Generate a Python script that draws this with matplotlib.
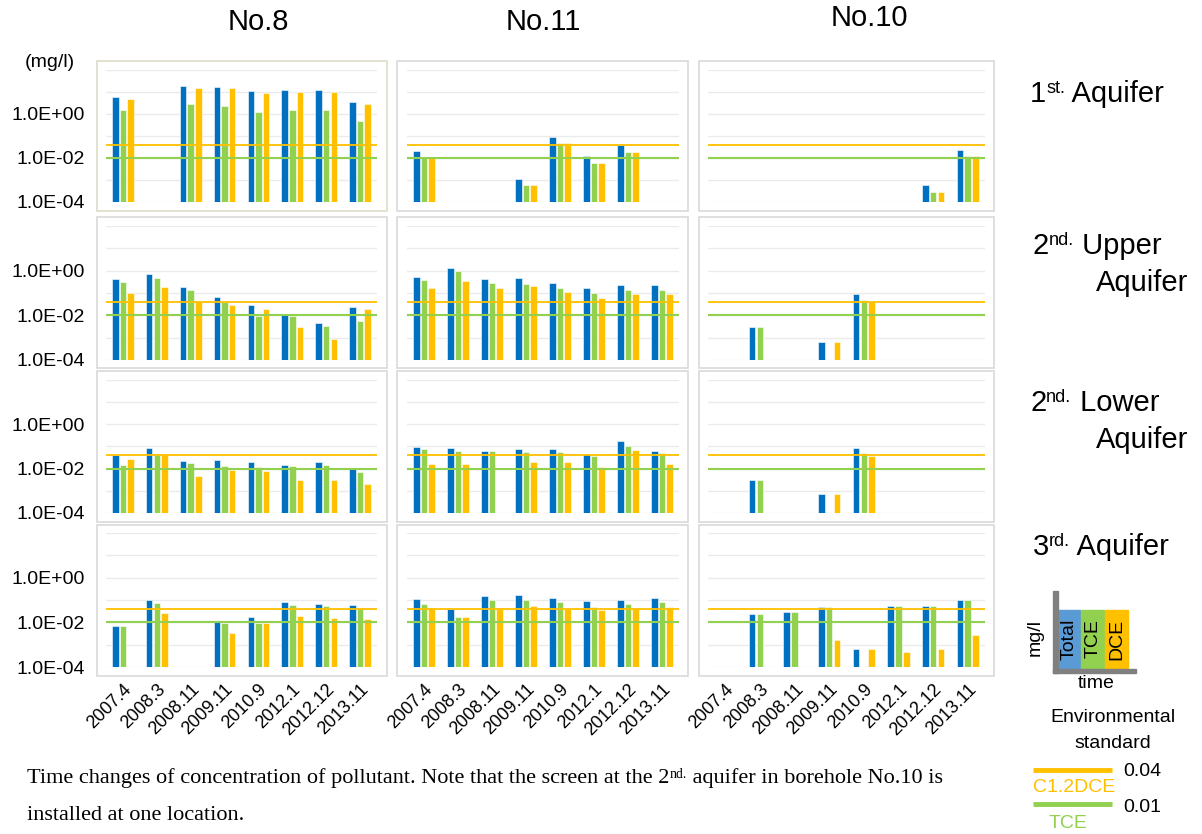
import numpy as np
import matplotlib
matplotlib.use('Agg')
import matplotlib.pyplot as plt
from matplotlib.patches import Rectangle

nan = np.nan

dates = ['2007.4', '2008.3', '2008.11', '2009.11', '2010.9', '2012.1', '2012.12', '2013.11']
boreholes = ['No.8', 'No.11', 'No.10']
y_tick_values = [1e-4, 1e-3, 1e-2, 1e-1, 1e0, 1e1, 1e2]
y_tick_labels = ['1.0E-04', '', '1.0E-02', '', '1.0E+00', '', '']
std_dce = 0.04
std_tce = 0.01

# rows: 1st, 2nd upper, 2nd lower, 3rd aquifer
no8_total = [[6, nan, 18, 17, 11, 12, 12, 3.4],
             [0.41, 0.69, 0.18, 0.066, 0.029, 0.012, 0.0044, 0.024],
             [0.043, 0.083, 0.022, 0.024, 0.02, 0.015, 0.019, 0.0093],
             [0.0068, 0.096, nan, 0.0117, 0.018, 0.081, 0.068, 0.057]]
no8_tce = [[1.5, nan, 2.8, 2.2, 1.2, 1.6, 1.5, 0.47],
           [0.31, 0.47, 0.14, 0.038, 0.009, 0.009, 0.0035, 0.0054],
           [0.015, 0.041, 0.018, 0.0137, 0.0123, 0.0128, 0.015, 0.0068],
           [0.0068, 0.071, nan, 0.0092, 0.0092, 0.059, 0.052, 0.044]]
no8_dce = [[4.8, nan, 16, 15, 9.3, 10, 10, 2.8],
           [0.1, 0.19, 0.04, 0.028, 0.02, 0.0031, 0.00087, 0.019],
           [0.026, 0.044, 0.0048, 0.009, 0.0081, 0.0031, 0.0031, 0.002],
           [nan, 0.026, nan, 0.0033, 0.0092, 0.02, 0.016, 0.0145]]

no11_total = [[0.02, nan, nan, 0.0011, 0.09, 0.012, 0.04, nan],
              [0.54, 1.3, 0.44, 0.49, 0.27, 0.16, 0.22, 0.22],
              [0.093, 0.085, 0.064, 0.076, 0.076, 0.047, 0.17, 0.066],
              [0.11, 0.038, 0.145, 0.162, 0.123, 0.087, 0.103, 0.126]]
no11_tce = [[0.01, nan, nan, 0.00057, 0.046, 0.006, 0.019, nan],
            [0.37, 1.0, 0.27, 0.25, 0.16, 0.097, 0.13, 0.13],
            [0.076, 0.066, 0.064, 0.054, 0.058, 0.037, 0.1, 0.05],
            [0.066, 0.017, 0.1, 0.1, 0.084, 0.047, 0.063, 0.078]]
no11_dce = [[0.01, nan, nan, 0.00057, 0.046, 0.006, 0.019, nan],
            [0.17, 0.36, 0.16, 0.2, 0.11, 0.062, 0.087, 0.093],
            [0.017, 0.017, nan, 0.02, 0.02, 0.0115, 0.069, 0.016],
            [0.044, 0.018, 0.044, 0.055, 0.038, 0.036, 0.042, 0.051]]

no10_total = [[nan, nan, nan, nan, nan, nan, 0.00058, 0.023],
              [nan, 0.003, nan, 0.00066, 0.087, nan, nan, nan],
              [nan, 0.003, nan, 0.00069, 0.09, nan, nan, nan],
              [nan, 0.023, 0.028, 0.049, 0.00066, 0.052, 0.056, 0.1]]
no10_tce = [[nan, nan, nan, nan, nan, nan, 0.00029, 0.012],
            [nan, 0.003, nan, nan, 0.05, nan, nan, nan],
            [nan, 0.003, nan, nan, 0.05, nan, nan, nan],
            [nan, 0.023, 0.028, 0.049, nan, 0.052, 0.052, 0.1]]
no10_dce = [[nan, nan, nan, nan, nan, nan, 0.00029, 0.012],
            [nan, nan, nan, 0.00066, 0.04, nan, nan, nan],
            [nan, nan, nan, 0.00069, 0.038, nan, nan, nan],
            [nan, nan, nan, 0.0017, 0.00066, 0.00045, 0.00066, 0.0028]]

BLUE, GREEN, YELLOW = '#0070C0', '#92D050', '#FFC000'
SANS = 'Liberation Sans'
SERIF = 'Liberation Serif'
W, H = 1202, 834

# pixel boxes for plot areas / chart frames
col_x = [(106, 377), (407, 679), (708, 985)]
row_y = [(70, 202), (226, 360), (380, 513), (533, 667)]
frame_x = [(97, 387), (397, 688), (699, 994)]
frame_y = [(61, 211), (217, 368), (371, 522), (525, 676)]

fig = plt.figure(figsize=(W / 100, H / 100), dpi=100)
bg = fig.add_axes([0, 0, 1, 1])
bg.set_xlim(0, W)
bg.set_ylim(H, 0)
bg.axis('off')


def sup_text(x, y, base, sup, rest, size, family, **kw):
    t1 = bg.text(x, y, base, fontsize=size, family=family, ha='left', va='baseline', **kw)
    t2 = bg.annotate(sup, xy=(1, 1), xycoords=t1, ha='left', va='top',
                     fontsize=size * 0.62, family=family, **kw)
    bg.annotate(rest, xy=(1, 0), xycoords=(t2, t1), ha='left', va='bottom',
                fontsize=size, family=family, **kw)


data = [[no8_total, no8_tce, no8_dce],
        [no11_total, no11_tce, no11_dce],
        [no10_total, no10_tce, no10_dce]]

x = np.arange(len(dates))
for c in range(3):
    for r in range(4):
        fx0, fx1 = frame_x[c]
        fy0, fy1 = frame_y[r]
        ec = '#DEDBC6' if (r == 0 and c == 0) else '#D9D9D9'
        bg.add_patch(Rectangle((fx0, fy0), fx1 - fx0, fy1 - fy0, fill=False,
                               edgecolor=ec, linewidth=1.2))
        x0, x1 = col_x[c]
        y0, y1 = row_y[r]
        ax = fig.add_axes([x0 / W, 1 - y1 / H, (x1 - x0) / W, (y1 - y0) / H])
        ax.set_facecolor('none')
        ax.set_yscale('log')
        ax.set_ylim(1e-4, 1e2)
        ax.set_xlim(-0.5, len(dates) - 0.5)
        for s in ax.spines.values():
            s.set_visible(False)
        ax.set_yticks(y_tick_values)
        ax.minorticks_off()
        ax.grid(axis='y', color='#EBEBEB', linewidth=1)
        ax.set_axisbelow(True)
        total, tce, dce = data[c]
        for vals, off, col in [(total[r], -0.225, BLUE), (tce[r], 0, GREEN), (dce[r], 0.225, YELLOW)]:
            v = np.array(vals, dtype=float)
            ax.bar(x + off, v - 1e-4, bottom=1e-4, width=0.19, color=col,
                   edgecolor='white', linewidth=0.4, zorder=2)
        ax.axhline(std_dce, color=YELLOW, linewidth=1.3, zorder=3)
        ax.axhline(std_tce, color=GREEN, linewidth=1.5, zorder=3)
        ax.tick_params(length=0)
        if c == 0:
            ax.set_yticklabels(y_tick_labels, fontsize=14, family=SANS)
            ax.tick_params(axis='y', pad=15)
        else:
            ax.set_yticklabels([])
        ax.set_xticks(x)
        if r == 3:
            ax.set_xticklabels(dates, rotation=45, ha='right', rotation_mode='anchor',
                               fontsize=13, family=SANS)
            ax.tick_params(axis='x', pad=10)
        else:
            ax.set_xticklabels([])

# column titles
for name, cx, cy in zip(boreholes, [258, 543, 869], [22, 22, 18]):
    bg.text(cx, cy, name, fontsize=21, family=SANS, ha='center', va='center')
bg.text(50, 62, '(mg/l)', fontsize=14, family=SANS, ha='center', va='center')

# aquifer labels
sup_text(1030, 102, '1', 'st.', ' Aquifer', 21, SANS)
sup_text(1033, 254, '2', 'nd.', ' Upper', 21, SANS)
bg.text(1188, 291, 'Aquifer', fontsize=21, family=SANS, ha='right', va='baseline')
sup_text(1030, 411, '2', 'nd.', ' Lower', 21, SANS)
bg.text(1188, 448, 'Aquifer', fontsize=21, family=SANS, ha='right', va='baseline')
sup_text(1033, 555, '3', 'rd.', ' Aquifer', 21, SANS)

# legend sketch
bg.add_patch(Rectangle((1058, 610), 22, 58, color='#5B9BD5'))
bg.add_patch(Rectangle((1081, 610), 23, 58, color=GREEN))
bg.add_patch(Rectangle((1105, 610), 23, 58, color=YELLOW))
bg.add_patch(Rectangle((1053, 591), 5, 82, color='#808080'))
bg.add_patch(Rectangle((1053, 669), 83, 4, color='#808080'))
for lab, lx in [('Total', 1069), ('TCE', 1093), ('DCE', 1117)]:
    bg.text(lx, 639, lab, rotation=90, fontsize=14, family=SANS, ha='center', va='center')
bg.text(1035, 637, 'mg/l', rotation=90, fontsize=14, family=SANS, ha='center', va='center')
bg.text(1096, 684, 'time', fontsize=14, family=SANS, ha='center', va='center')
bg.text(1113, 718, 'Environmental', fontsize=14, family=SANS, ha='center', va='center')
bg.text(1113, 743, 'standard', fontsize=14, family=SANS, ha='center', va='center')
bg.plot([1033, 1112], [770, 770], color=YELLOW, linewidth=3.5, solid_capstyle='butt')
bg.text(1033, 787, 'C1.2DCE', color=YELLOW, fontsize=14, family=SANS, ha='left', va='center')
bg.text(1123, 772, '0.04', fontsize=14, family=SANS, ha='left', va='center')
bg.plot([1033, 1112], [804, 804], color=GREEN, linewidth=3.5, solid_capstyle='butt')
bg.text(1049, 823, 'TCE', color=GREEN, fontsize=14, family=SANS, ha='left', va='center')
bg.text(1123, 807, '0.01', fontsize=14, family=SANS, ha='left', va='center')

# caption
sup_text(27, 783, 'Time changes of concentration of pollutant. Note that the screen at the 2',
         'nd.', ' aquifer in borehole No.10 is', 16, SERIF)
bg.text(27, 820, 'installed at one location.', fontsize=16, family=SERIF, ha='left', va='baseline')

fig.savefig('out.png', dpi=100)
